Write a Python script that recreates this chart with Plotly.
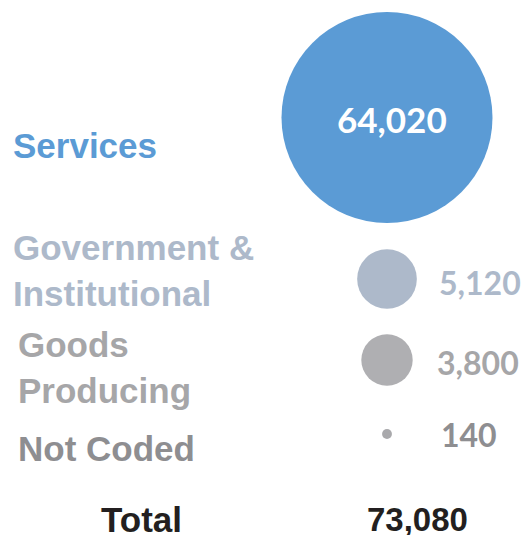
import plotly.graph_objects as go

# Employment counts by sector
categories = ["Services", "Government &<br>Institutional", "Goods<br>Producing", "Not Coded"]
values = [64020, 5120, 3800, 140]
total_label = "Total"

# Styling
bubble_colors = ["#5b9bd5", "#adb9ca", "#afafb2", "#a9a9ac"]
label_colors = ["#5b9bd5", "#adb9ca", "#a6a6a8", "#8e8e91"]
value_colors = ["#ffffff", "#adb9ca", "#a6a6a8", "#8e8e91"]

# Layout geometry (pixel space)
W, H = 532, 535
bubble_x = 387
row_y = [117.5, 279, 360, 434]
label_y = [145, 270, 367, 448]
label_x = [11, 11, 16, 16]
value_x = [392, 437, 435, 439]
value_y = [119, 282.5, 362, 434]
max_diameter = 211

total = sum(values)

fig = go.Figure()
fig.add_trace(go.Scatter(
    x=[bubble_x] * len(values),
    y=row_y,
    mode="markers",
    marker=dict(
        size=values,
        sizemode="area",
        sizeref=2 * max(values) / max_diameter ** 2,
        color=bubble_colors,
        line=dict(width=0),
        opacity=1,
    ),
    hoverinfo="skip",
    showlegend=False,
))

annotations = []
for i, cat in enumerate(categories):
    annotations.append(dict(
        x=label_x[i], y=label_y[i], xref="x", yref="y",
        text=cat, showarrow=False, xanchor="left", yanchor="middle", align="left",
        font=dict(family="Liberation Sans, Arial", size=35, color=label_colors[i], weight="bold"),
    ))
    annotations.append(dict(
        x=value_x[i], y=value_y[i], xref="x", yref="y",
        text=f"{values[i]:,}", showarrow=False,
        xanchor="center" if i == 0 else "left", yanchor="middle",
        font=dict(family="Lato", size=35 if i == 0 else 32, color=value_colors[i], weight="bold"),
    ))

annotations.append(dict(
    x=99, y=519, xref="x", yref="y", text=total_label, showarrow=False,
    xanchor="left", yanchor="middle",
    font=dict(family="Liberation Sans, Arial", size=35, color="#231f20", weight="bold"),
))
annotations.append(dict(
    x=365, y=519, xref="x", yref="y", text=f"{total:,}", showarrow=False,
    xanchor="left", yanchor="middle",
    font=dict(family="Liberation Sans, Arial", size=33, color="#231f20", weight="bold"),
))

fig.update_layout(
    width=W, height=H,
    margin=dict(l=0, r=0, t=0, b=0),
    paper_bgcolor="white", plot_bgcolor="white",
    xaxis=dict(range=[0, W], visible=False, fixedrange=True),
    yaxis=dict(range=[H, 0], visible=False, fixedrange=True),
    annotations=annotations,
)

fig.write_html("out.html")
